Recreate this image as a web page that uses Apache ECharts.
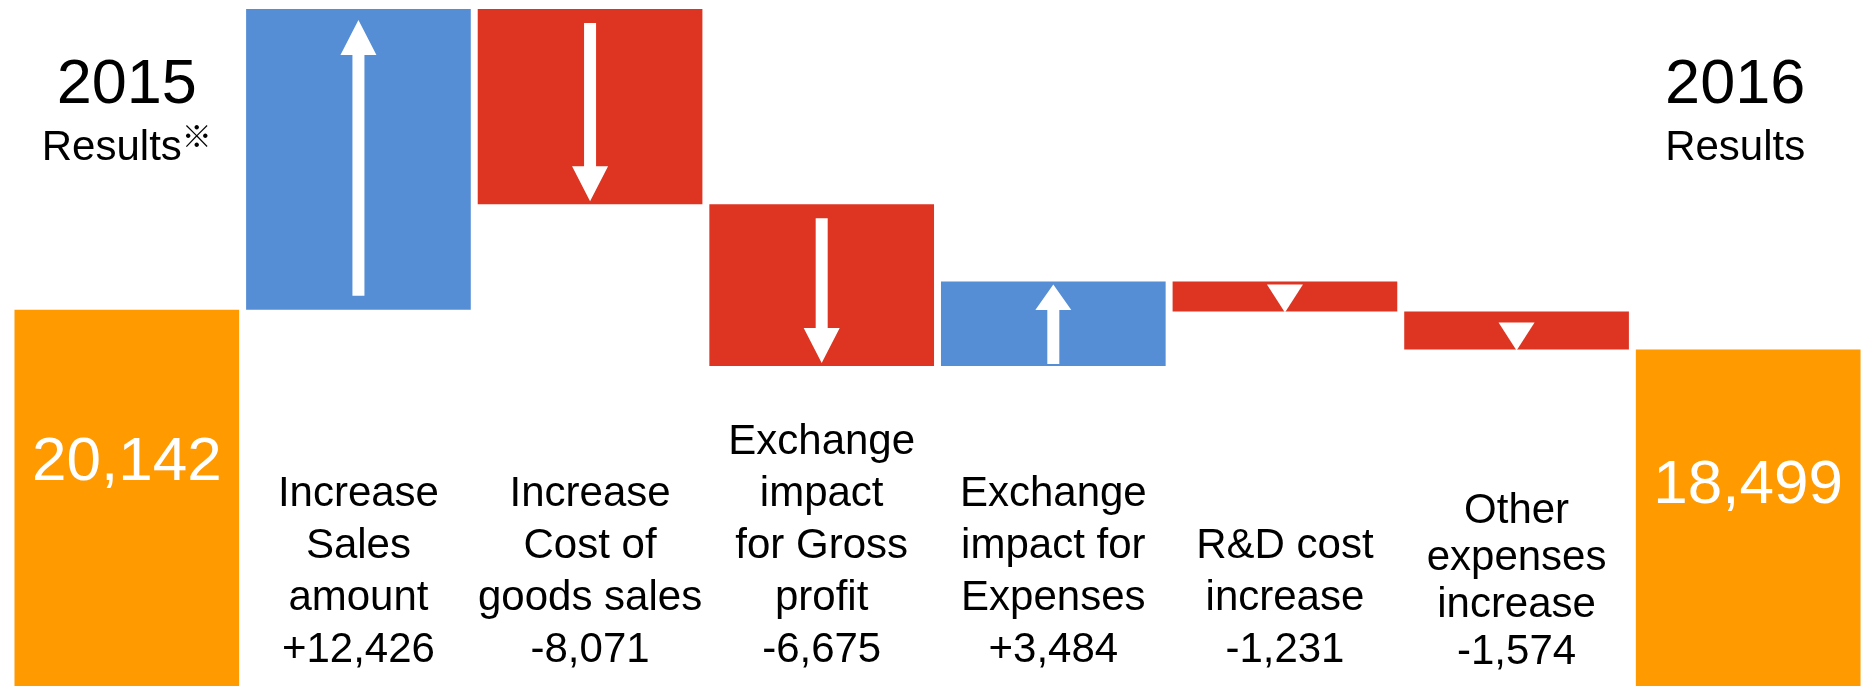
<!DOCTYPE html>
<html><head><meta charset="utf-8">
<script src="https://cdn.jsdelivr.net/npm/echarts@6/dist/echarts.min.js"></script>
<style>html,body{margin:0;padding:0;background:#fff}#c{width:1865px;height:686px}</style>
</head><body><div id="c"></div>
<script>
const categories = ['2015 Results', 'Increase Sales amount', 'Increase Cost of goods sales', 'Exchange impact for Gross profit', 'Exchange impact for Expenses', 'R&D cost increase', 'Other expenses increase', '2016 Results'];
const startValue = 20142;
const endValue = 18499;
const changes = [12426, -8071, -6675, 3484, -1231, -1574];
const changeLabels = ['+12,426', '-8,071', '-6,675', '+3,484', '-1,231', '-1,574'];
const categoryLines = [[], ['Increase', 'Sales', 'amount'], ['Increase', 'Cost of', 'goods sales'], ['Exchange', 'impact', 'for Gross', 'profit'], ['Exchange', 'impact for', 'Expenses'], ['R&D cost', 'increase'], ['Other', 'expenses', 'increase'], []];
const yearLabels = ['2015', '2016'];
const resultsLabel = 'Results';
const totalLabels = ['20,142', '18,499'];

const FONT = "'Liberation Sans', Arial, Helvetica, sans-serif";
const BLUE = '#558ED5', RED = '#DE3422', ORANGE = '#FF9A00';

const placeholder = [];
const visible = [];
const arrows = [];
placeholder.push(0);
visible.push({value: startValue, itemStyle: {color: ORANGE},
  label: {show: true, position: 'insideTop', distance: 122, formatter: totalLabels[0]}});
let running = startValue;
changes.forEach((c, i) => {
  const from = running, to = running + c;
  placeholder.push(Math.min(from, to));
  visible.push({value: Math.abs(c), itemStyle: {color: c > 0 ? BLUE : RED}});
  arrows.push([i + 1, from, to]);
  running = to;
});
placeholder.push(0);
visible.push({value: endValue, itemStyle: {color: ORANGE},
  label: {show: true, position: 'insideTop', distance: 105, formatter: totalLabels[1]}});

const chart = echarts.init(document.getElementById('c'), null, {renderer: 'canvas'});
chart.setOption({
  animation: false,
  backgroundColor: '#fff',
  grid: {left: 11, right: 1, top: 0, bottom: 0, containLabel: false, outerBoundsMode: 'none'},
  xAxis: [{
    type: 'category', data: categories, position: 'bottom',
    axisLine: {show: false}, axisTick: {show: false}, splitLine: {show: false},
    axisLabel: {
      show: true, inside: true, interval: 0, margin: 10, hideOverlap: false,
      formatter: function (v, idx) {
        const lines = categoryLines[idx];
        if (!lines || !lines.length) return '';
        const key = idx === 6 ? 'u' : 't';
        return lines.concat([changeLabels[idx - 1]]).map(l => '{' + key + '|' + l + '}').join('\n');
      },
      rich: {
        t: {fontSize: 42, lineHeight: 52, fontFamily: FONT, color: '#000', align: 'center'},
        u: {fontSize: 42, lineHeight: 47, fontFamily: FONT, color: '#000', align: 'center'}
      }
    }
  }, {
    type: 'category', data: categories, position: 'top',
    axisLine: {show: false}, axisTick: {show: false}, splitLine: {show: false},
    axisLabel: {
      show: true, inside: true, interval: 0, margin: 51, hideOverlap: false,
      formatter: function (v, idx) {
        if (idx === 0) return '{y|' + yearLabels[0] + '}\n{r|' + resultsLabel + '}{s|※}';
        if (idx === categories.length - 1) return '{y2|' + yearLabels[1] + '}\n{r2|' + resultsLabel + '}';
        return '';
      },
      rich: {
        y: {fontSize: 63, lineHeight: 70, fontFamily: FONT, color: '#000'},
        r: {fontSize: 42, lineHeight: 55, fontFamily: FONT, color: '#000'},
        s: {fontSize: 30, lineHeight: 42, fontFamily: "'Noto Sans CJK JP', 'DejaVu Sans', sans-serif", color: '#000', verticalAlign: 'top'},
        y2: {fontSize: 63, lineHeight: 70, fontFamily: FONT, color: '#000', padding: [0, 26, 0, 0]},
        r2: {fontSize: 42, lineHeight: 55, fontFamily: FONT, color: '#000', padding: [0, 26, 0, 0]}
      }
    }
  }],
  yAxis: {type: 'value', min: 4600, max: 32940, show: false, splitLine: {show: false}},
  series: [{
    type: 'bar', stack: 'w', data: placeholder, barCategoryGap: '3%',
    itemStyle: {color: 'rgba(0,0,0,0)'}, silent: true, emphasis: {disabled: true}
  }, {
    type: 'bar', stack: 'w', data: visible, barCategoryGap: '3%',
    label: {color: '#fff', fontSize: 62, lineHeight: 62, fontFamily: FONT},
    emphasis: {disabled: true}
  }, {
    type: 'custom', data: arrows, z: 10, silent: true,
    encode: {x: 0, y: [1, 2]},
    renderItem: function (params, api) {
      const idx = api.value(0);
      const p1 = api.coord([idx, api.value(1)]);
      const p2 = api.coord([idx, api.value(2)]);
      const cx = p1[0], y1 = p1[1], y2 = p2[1];
      const dir = y2 > y1 ? 1 : -1;
      const L = Math.abs(y2 - y1);
      const hw = 18, sw = 6;
      let pts;
      if (L < 60) {
        const tip = y2 + dir * 1;
        const base = tip - dir * Math.min(L, 28);
        pts = [[cx - hw, base], [cx + hw, base], [cx, tip]];
      } else {
        const tailInset = L > 100 ? 14 : 2;
        const tipInset = L > 250 ? 11 : 3;
        const headLen = Math.min(35, L * 0.3);
        const tail = y1 + dir * tailInset;
        const tip = y2 - dir * tipInset;
        const hb = tip - dir * headLen;
        pts = [[cx - sw, tail], [cx + sw, tail], [cx + sw, hb], [cx + hw, hb], [cx, tip], [cx - hw, hb], [cx - sw, hb]];
      }
      return {type: 'polygon', shape: {points: pts}, style: {fill: '#fff'}};
    }
  }]
});
</script></body></html>
